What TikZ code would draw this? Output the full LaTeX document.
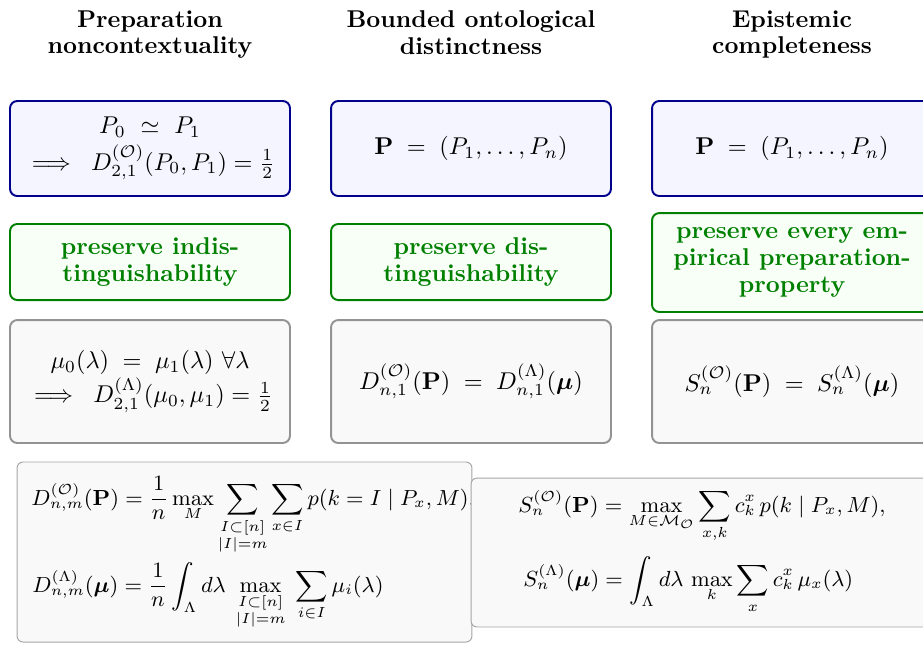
\documentclass[tikz,border=0pt]{standalone}
\usepackage{amsmath,amssymb}
\usepackage{xcolor}
\usepackage{tikz}

\tikzset{
  colhead/.style={font=\fontsize{10}{11}\bfseries\selectfont, align=center, inner sep=0pt, anchor=north},
  premise/.style={draw=blue!55!black, fill=blue!4, thick, rounded corners=3pt,
    minimum width=115.2pt, minimum height=39.1pt, align=center},
  keeps/.style={draw=green!50!black, fill=green!3, thick, rounded corners=3pt,
    minimum width=115.2pt, minimum height=31.3pt, align=center,
    text=green!50!black, font=\fontsize{10}{11}\bfseries\selectfont},
  outcome/.style={draw=gray!85, fill=gray!5, thick, rounded corners=3pt,
    minimum width=115.2pt, minimum height=50.6pt, align=center},
  defbox/.style={draw=gray!70, fill=gray!5, rounded corners=2.5pt},
  formula/.style={anchor=base west, inner sep=0pt, font=\small},
}

\begin{document}
\begin{tikzpicture}[x=0.4115pt, y=-0.4115pt]
    \useasboundingbox (0,0) rectangle (923,646);

    % Column headings
    \node[colhead] (headPNC) at (150,10) {Preparation\\noncontextuality};
    \node[colhead] (headBOD) at (471,10) {Bounded ontological\\distinctness};
    \node[colhead] (headEC)  at (792,10) {Epistemic\\completeness};

    % Premises
    \node[premise] (preA) at (150,148.5) {$P_0 \ \simeq\ P_1$\\[3pt]
        $\implies\; D^{(\mathcal{O})}_{2,1}(P_0,P_1) = \tfrac{1}{2}$};
    \node[premise] (preB) at (471,148.5) {$\mathbf{P} \;=\; (P_1,\ldots,P_n)$};
    \node[premise] (preC) at (792,148.5) {$\mathbf{P} \;=\; (P_1,\ldots,P_n)$};

    % What the model must preserve
    \node[keeps] (keepA) at (150,262) {preserve indis-\\tinguishability};
    \node[keeps] (keepB) at (471,262) {preserve dis-\\tinguishability};
    \node[keeps, minimum height=40.7pt] (keepC) at (792,262.5) {preserve every em-\\pirical preparation-\\property};

    % Consequences in the ontological model
    \node[outcome] (outA) at (150,381.5) {$\mu_0(\lambda) \;=\; \mu_1(\lambda)\ \forall\lambda$\\[0pt]
        $\implies\; D^{(\Lambda)}_{2,1}(\mu_0,\mu_1) = \tfrac{1}{2}$};
    \node[outcome] (outB) at (471,381.5) {$D^{(\mathcal{O})}_{n,1}(\mathbf{P}) \;=\; D^{(\Lambda)}_{n,1}(\boldsymbol{\mu})$};
    \node[outcome] (outC) at (792,381.5) {$S^{(\mathcal{O})}_{n}(\mathbf{P}) \;=\; S^{(\Lambda)}_{n}(\boldsymbol{\mu})$};

    % Definitions: distinguishability
    \node[defbox, minimum width=187.2pt, minimum height=74.1pt] (defD) at (244.5,552) {};
    \node[formula] (defDO) at (31,505) {$\displaystyle D^{(\mathcal{O})}_{n,m}(\mathbf{P}) = \frac{1}{n}\max_{M}
        \sum_{\substack{I\subset[n]\\ |I|=m}} \sum_{x\in I} p(k=I \mid P_x, M),$};
    \node[formula] (defDL) at (32,592) {$\displaystyle D^{(\Lambda)}_{n,m}(\boldsymbol{\mu}) = \frac{1}{n}\int_{\Lambda} d\lambda\;
        \max_{\substack{I\subset[n]\\ |I|=m}}\; \sum_{i\in I}\mu_i(\lambda)$};

    % Definitions: success of the task
    \node[defbox, minimum width=190.9pt, minimum height=61.3pt] (defS) at (703,552.5) {};
    \node[formula] (defSO) at (518,512) {$\displaystyle S^{(\mathcal{O})}_{n}(\mathbf{P}) = \max_{M\in\mathcal{M}_{\mathcal{O}}}
        \sum_{x,k} c^x_k\, p(k \mid P_x, M),$};
    \node[formula] (defSL) at (523,586) {$\displaystyle S^{(\Lambda)}_{n}(\boldsymbol{\mu}) = \int_{\Lambda} d\lambda\,
        \max_{k} \sum_{x} c^x_k\, \mu_x(\lambda)$};
\end{tikzpicture}
\end{document}
